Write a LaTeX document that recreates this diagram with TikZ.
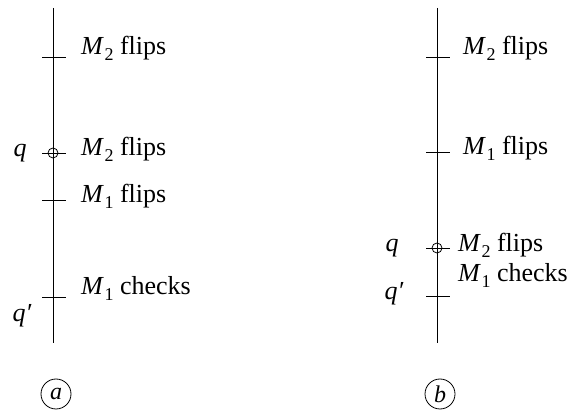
\documentclass[tikz,border=0pt]{standalone}
\usepackage{fontspec}
\setmainfont{Liberation Serif}
\newcommand{\Mi}[1]{\textit{M}\kern0.5pt\raisebox{-0.22em}{\fontsize{18}{18}\selectfont #1}}
\tikzset{
  axis/.style={line width=0.9pt},
  tick/.style={line width=0.9pt},
  lbl/.style={anchor=base west, inner sep=0pt, font=\fontsize{26}{26}\selectfont},
  qlbl/.style={anchor=base, inner sep=0pt, font=\fontsize{26}{26}\selectfont\itshape},
  tag/.style={circle, draw, line width=0.8pt, minimum size=30pt, inner sep=0pt, font=\fontsize{24}{24}\selectfont\itshape}
}
\begin{document}
\begin{tikzpicture}[x=1pt,y=-1pt]
\useasboundingbox (0,0) rectangle (576,419);
% left timeline
\coordinate (Ltop) at (53,8);
\coordinate (Lbot) at (53,343);
\draw[axis] (Ltop) -- (Lbot);
\foreach \n/\y in {1/57,2/153,3/200,4/297}{
  \coordinate (La\n) at (42,\y);
  \coordinate (Lb\n) at (66,\y);
  \draw[tick] (La\n) -- (Lb\n);
}
\node[circle, draw, line width=0.8pt, minimum size=10pt, inner sep=0pt] (Lc) at (53,153) {};
\node[lbl] (l1) at (81,55) {\Mi{2} flips};
\node[lbl] (l2) at (81,156) {\Mi{2} flips};
\node[lbl] (l3) at (81,203) {\Mi{1} flips};
\node[lbl] (l4) at (81,295) {\Mi{1} checks};
\node[qlbl] (lq) at (20,157) {q};
\node[qlbl] (lqp) at (22,322) {q′};
\node[tag] (ta) at (56,394) {a};
% right timeline
\coordinate (Rtop) at (437,8);
\coordinate (Rbot) at (437,343);
\draw[axis] (Rtop) -- (Rbot);
\foreach \n/\y in {1/57,2/152,3/248,4/296}{
  \coordinate (Ra\n) at (426,\y);
  \coordinate (Rb\n) at (450,\y);
  \draw[tick] (Ra\n) -- (Rb\n);
}
\node[circle, draw, line width=0.8pt, minimum size=10pt, inner sep=0pt] (Rc) at (437,248) {};
\node[lbl] (r1) at (463,55) {\Mi{2} flips};
\node[lbl] (r2) at (463,155) {\Mi{1} flips};
\node[lbl] (r3) at (458,252) {\Mi{2} flips};
\node[lbl] (r4) at (458,282) {\Mi{1} checks};
\node[qlbl] (rq) at (392,252) {q};
\node[qlbl] (rqp) at (394,300) {q′};
\node[tag] (tb) at (440,394) {b};
\end{tikzpicture}
\end{document}
